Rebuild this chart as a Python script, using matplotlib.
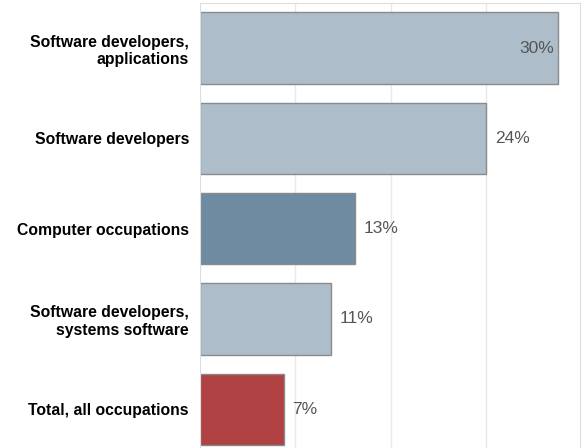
import matplotlib.pyplot as plt

categories = ['Software developers,\napplications', 'Software developers',
              'Computer occupations', 'Software developers,\nsystems software',
              'Total, all occupations']
values = [30, 24, 13, 11, 7]
colors = ['#adbdc9', '#adbdc9', '#6f8ba1', '#adbdc9', '#b04244']
gridlines = [8, 16, 24]

fig = plt.figure(figsize=(5.82, 4.48), dpi=100)
ax = fig.add_axes([200 / 582, 0, 380 / 582, 445 / 448])

ax.barh(range(len(values)), values, height=0.79, color=colors,
        edgecolor='#8a8a8a', linewidth=1, zorder=2)
ax.set_xlim(0, 31.85)
ax.set_ylim(4.43, -0.5)

for x in gridlines:
    ax.axvline(x, color='#e8e8e8', linewidth=1, zorder=1)

for i, v in enumerate(values):
    if v == max(values):
        ax.text(v - 0.35, i, f'{v}%', ha='right', va='center',
                fontsize=12.5, color='#555555', family='Liberation Sans')
    else:
        ax.text(v + 0.7, i, f'{v}%', ha='left', va='center',
                fontsize=12.5, color='#555555', family='Liberation Sans')

ax.set_yticks(range(len(categories)))
ax.set_yticklabels(categories, fontsize=11.3, fontweight='bold',
                   family='Liberation Sans', ha='right', linespacing=1.2)
ax.tick_params(axis='y', length=0, pad=8)
ax.set_xticks([])

for side in ['top', 'right', 'left']:
    ax.spines[side].set_color('#dddddd')
ax.spines['bottom'].set_visible(False)

fig.savefig('out.png', dpi=100)
